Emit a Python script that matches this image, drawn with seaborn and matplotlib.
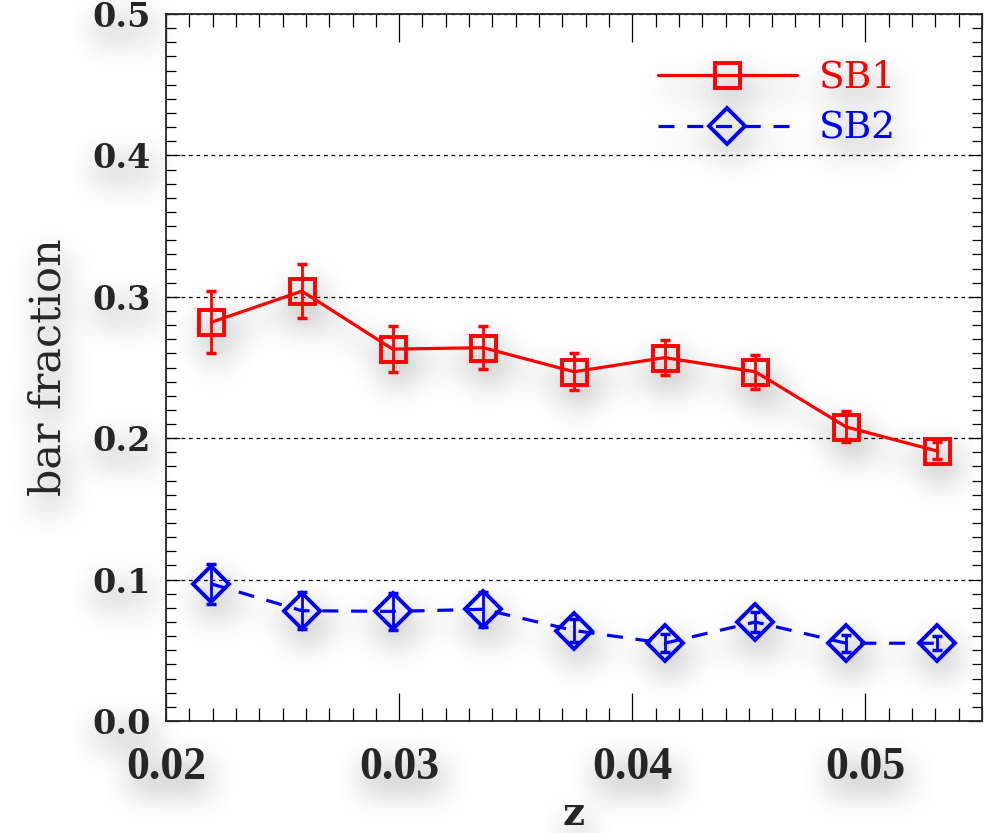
import numpy as np
import seaborn as sns
import matplotlib.pyplot as plt
from matplotlib.ticker import MultipleLocator

# values
z = [0.02194, 0.02583, 0.02972, 0.03361, 0.0375, 0.04139, 0.04528, 0.04917, 0.05306]
sb1 = [0.282, 0.304, 0.263, 0.264, 0.247, 0.257, 0.247, 0.208, 0.191]
sb1_err = [0.022, 0.019, 0.016, 0.015, 0.013, 0.0125, 0.012, 0.011, 0.006]
sb2 = [0.097, 0.078, 0.0775, 0.079, 0.064, 0.055, 0.070, 0.055, 0.055]
sb2_err = [0.014, 0.013, 0.013, 0.0125, 0.008, 0.0065, 0.007, 0.006, 0.005]
x_ticks = [0.02, 0.03, 0.04, 0.05]
x_labels = ['0.02', '0.03', '0.04', '0.05']
y_ticks = [0.0, 0.1, 0.2, 0.3, 0.4, 0.5]
y_labels = ['0.0', '0.1', '0.2', '0.3', '0.4', '0.5']
names = ['SB1', 'SB2']

sns.set_style("ticks")
plt.rcParams['font.family'] = ['DejaVu Serif', 'DejaVu Sans']


# blurred drop shadow, applied to a whole copy of the axes
def smooth1d(x, n):
    s = np.r_[2 * x[0] - x[n:1:-1], x, 2 * x[-1] - x[-1:-n:-1]]
    w = np.hanning(n)
    y = np.convolve(w / w.sum(), s, mode="same")
    return y[n - 1:-n + 1]


def shadow_filter(im, dpi):
    pad = 70
    a = np.pad(im[:, :, 3], pad)
    a = np.apply_along_axis(smooth1d, 0, a, 75)
    a = np.apply_along_axis(smooth1d, 1, a, 75)
    out = np.zeros(a.shape + (4,))
    out[..., :3] = 0.35
    out[..., 3] = np.clip(a * 0.7, 0, 1)
    out = np.roll(out, 14, axis=0)
    out = np.roll(out, 4, axis=1)
    return out, -pad, -pad


def setup(a, shadow=False):
    a.set_xlim(0.02, 0.055)
    a.set_ylim(0, 0.5)
    a.set_xticks(x_ticks, x_labels, fontfamily='Liberation Serif',
                 fontweight='bold', fontsize=33)
    a.set_yticks(y_ticks, y_labels, fontweight='bold', fontsize=24)
    a.xaxis.set_minor_locator(MultipleLocator(0.001))
    a.yaxis.set_minor_locator(MultipleLocator(0.01))
    a.tick_params(which='both', direction='in', top=True, right=True,
                  width=0.9, color='none' if shadow else 'k')
    a.tick_params(axis='x', which='major', length=20, pad=19)
    a.tick_params(axis='x', which='minor', length=9.5)
    a.tick_params(axis='y', which='major', length=10, pad=11)
    a.tick_params(axis='y', which='minor', length=7)
    a.set_xlabel('z', fontsize=28, fontweight='bold', labelpad=4)
    a.set_ylabel('bar fraction', fontsize=31, labelpad=16)
    for sp in a.spines.values():
        sp.set_linewidth(1.3)
        sp.set_visible(not shadow)


def draw(a):
    sns.lineplot(x=z, y=sb1, ax=a, color='red', lw=2.3, marker='s', ms=18,
                 mfc='none', mec='red', mew=2.8, errorbar=None, label=names[0])
    l1 = a.lines[-1]
    sns.lineplot(x=z, y=sb2, ax=a, color='blue', lw=2.3, ls=(0, (5, 4)),
                 marker='D', ms=18, mfc='none', mec='blue', mew=2.8,
                 errorbar=None, label=names[1])
    l2 = a.lines[-1]
    a.errorbar(z, sb1, yerr=sb1_err, fmt='none', ecolor='red',
               elinewidth=2, capsize=3.5, capthick=2.5)
    a.errorbar(z, sb2, yerr=sb2_err, fmt='none', ecolor='blue',
               elinewidth=2, capsize=3.5, capthick=2.5)
    a.legend([l1, l2], names, loc='upper left', bbox_to_anchor=(0.603, 0.935),
             frameon=False, fontsize=27, handlelength=3.7, handletextpad=0.6,
             labelspacing=0.4, borderpad=0, borderaxespad=0,
             labelcolor='linecolor')


fig = plt.figure(figsize=(9.87, 8.33), dpi=100)
rect = [166 / 987, 112 / 833, 816 / 987, 707 / 833]

sh = fig.add_axes(rect, zorder=0)
draw(sh)
setup(sh, shadow=True)
sh.patch.set_visible(False)
sh.set_agg_filter(shadow_filter)

ax = fig.add_axes(rect, zorder=1)
ax.patch.set_visible(False)
ax.grid(axis='y', which='major', ls=(0, (3, 3)), color='k', lw=0.9)
draw(ax)
setup(ax)

fig.savefig('out.png', dpi=100)
